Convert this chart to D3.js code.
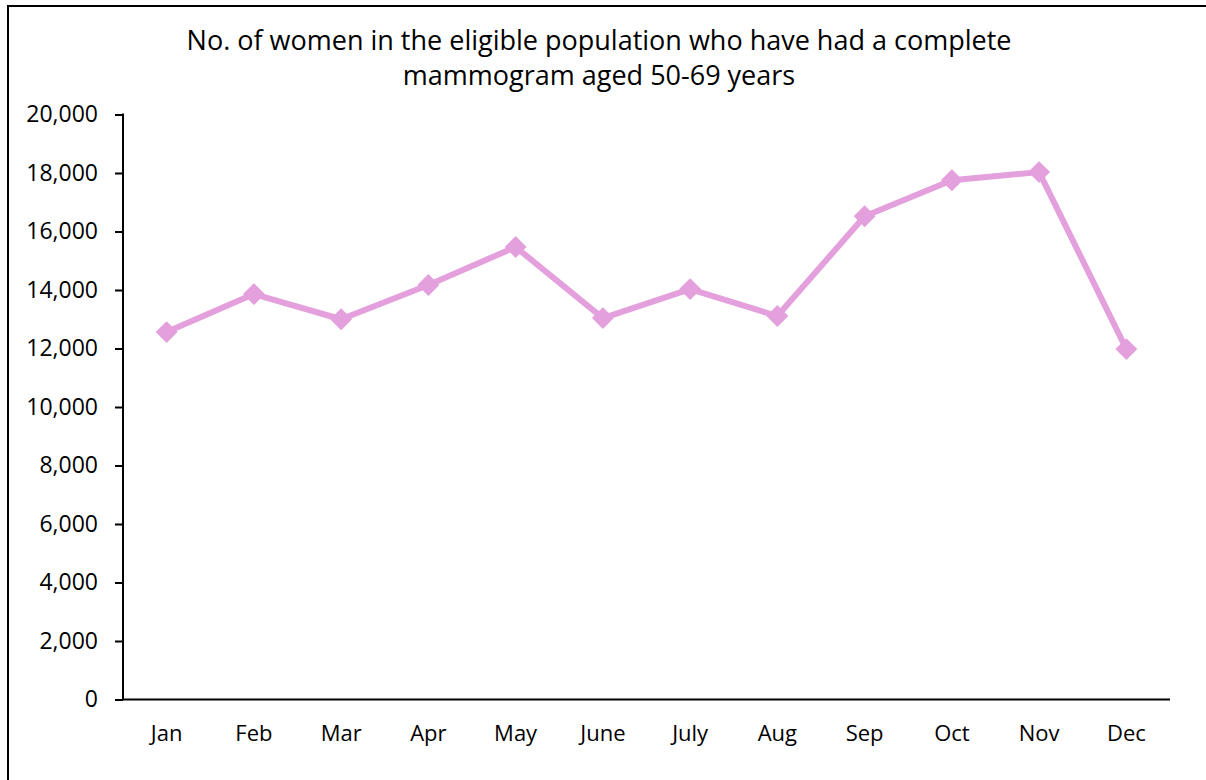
<!DOCTYPE html>
<html>
<head>
<meta charset="utf-8">
<script src="https://cdn.jsdelivr.net/npm/d3@7"></script>
<style>
	html, body { margin: 0; padding: 0; background: #fff; }
	svg { display: block; }
</style>
</head>
<body>
<svg id="chart" width="1206" height="780"></svg>
<script>
// chart data
const months = ['Jan', 'Feb', 'Mar', 'Apr', 'May', 'June', 'July', 'Aug', 'Sep', 'Oct', 'Nov', 'Dec'];
const womenScreened = [12560, 13860, 13000, 14170, 15470, 13040, 14030, 13110, 16520, 17750, 18030, 11980];
const yTicks = [0, 2000, 4000, 6000, 8000, 10000, 12000, 14000, 16000, 18000, 20000];
const titleLines = ['No. of women in the eligible population who have had a complete', 'mammogram aged 50-69 years'];

const lineColor = '#e4a0dc';
const axisColor = '#000';
const fontFam = '"Open Sans", "Liberation Sans", sans-serif';

let svg = d3.select('#chart');

// outer frame (right/bottom edges fall off the picture)
svg.append('rect')
	.attr('x', 8).attr('y', 6)
	.attr('width', 1220).attr('height', 800)
	.attr('fill', '#fff')
	.attr('stroke', '#000')
	.attr('stroke-width', 2);

let plot = {left: 123, right: 1170, top: 114.5, bottom: 699.5};

let x = d3.scaleBand()
	.domain(months)
	.range([plot.left, plot.right]);

let y = d3.scaleLinear()
	.domain([0, 20000])
	.range([plot.bottom, plot.top]);

// title
let title = svg.append('g');
titleLines.forEach((t, i) => {
	title.append('text')
		.attr('x', 599)
		.attr('y', 50 + i * 35)
		.attr('text-anchor', 'middle')
		.attr('font-family', fontFam)
		.attr('font-size', '27px')
		.attr('fill', '#000')
		.text(t);
});

// y axis
let yAxis = d3.axisLeft(y)
	.tickValues(yTicks)
	.tickSize(8)
	.tickPadding(17)
	.tickFormat(d3.format(','));
let gy = svg.append('g')
	.attr('transform', `translate(${plot.left},0)`)
	.call(yAxis);
gy.select('.domain').remove();
gy.selectAll('.tick line').attr('stroke', axisColor).attr('stroke-width', 2);
gy.selectAll('.tick text')
	.attr('font-family', fontFam)
	.attr('font-size', '23px')
	.attr('fill', '#000');
svg.append('line')
	.attr('x1', plot.left).attr('x2', plot.left)
	.attr('y1', plot.top - 1).attr('y2', plot.bottom)
	.attr('stroke', axisColor).attr('stroke-width', 2);

// x axis, no tick marks
let xAxis = d3.axisBottom(x).tickSize(0).tickPadding(26);
let gx = svg.append('g')
	.attr('transform', `translate(0,${plot.bottom})`)
	.call(xAxis);
gx.select('.domain').remove();
gx.selectAll('.tick text')
	.attr('font-family', fontFam)
	.attr('font-size', '22px')
	.attr('fill', '#000');
svg.append('line')
	.attr('x1', plot.left).attr('x2', plot.right)
	.attr('y1', plot.bottom).attr('y2', plot.bottom)
	.attr('stroke', axisColor).attr('stroke-width', 2);

// series line
let data = months.map((m, i) => ({month: m, value: womenScreened[i]}));
let line = d3.line()
	.x(d => x(d.month) + x.bandwidth() / 2)
	.y(d => y(d.value));

svg.append('path')
	.datum(data)
	.attr('fill', 'none')
	.attr('stroke', lineColor)
	.attr('stroke-width', 6)
	.attr('stroke-linejoin', 'round')
	.attr('d', line);

// diamond markers
let diamond = d3.symbol().type(d3.symbolSquare).size(240);
svg.append('g').selectAll('path')
	.data(data)
	.join('path')
	.attr('d', diamond)
	.attr('fill', lineColor)
	.attr('transform', d => `translate(${x(d.month) + x.bandwidth() / 2},${y(d.value)}) rotate(45)`);
</script>
</body>
</html>
